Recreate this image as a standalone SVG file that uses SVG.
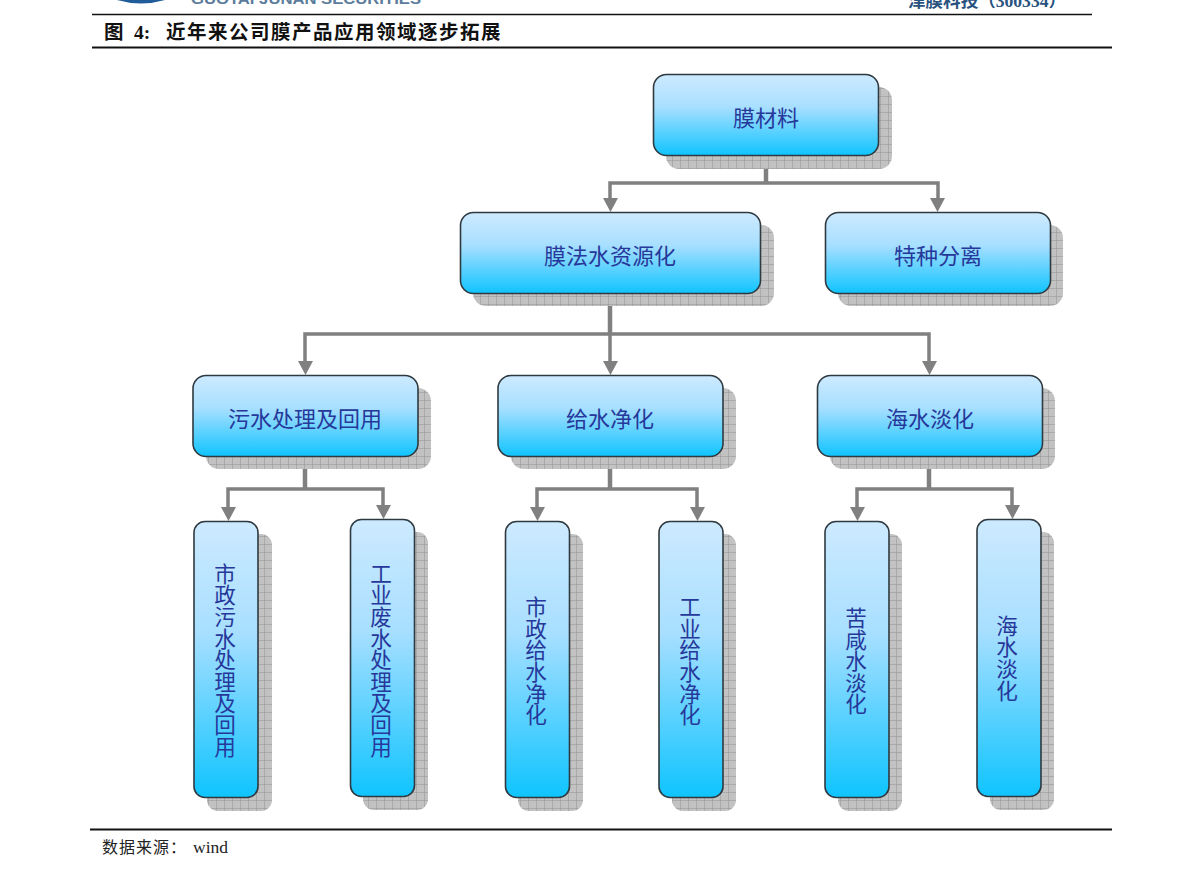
<svg xmlns="http://www.w3.org/2000/svg" width="1191" height="877" viewBox="0 0 1191 877">
<style>
.box{stroke:#2f3a40;stroke-width:1.6}
.sh{fill:url(#grid)}
.lb{font-family:"Noto Sans CJK SC","Liberation Sans",sans-serif;font-size:22px;fill:#26389a;text-anchor:middle}
.vt{font-family:"Noto Sans CJK SC","Liberation Sans",sans-serif;font-size:21.600px;fill:#26389a;writing-mode:vertical-rl;text-orientation:upright;text-anchor:middle}
.cn{fill:none;stroke:#808080;stroke-width:3.5}
.tr{fill:none;stroke:#808080;stroke-width:4.500}
.hd{font-family:"Liberation Serif","Noto Sans CJK SC",serif}
</style>
<defs>
<linearGradient id="g" x1="0" y1="0" x2="0" y2="1"><stop offset="0" stop-color="#cdeaff"/><stop offset=".4" stop-color="#a8dfff"/><stop offset="1" stop-color="#0fc4ff"/></linearGradient>
<pattern id="grid" width="8" height="8" patternUnits="userSpaceOnUse"><rect width="8" height="8" fill="#c2c2c2"/><path d="M0 0H8M0 0V8" stroke="#929292" stroke-width="1"/></pattern>
</defs>
<rect width="1191" height="877" fill="#fff"/>
<g id="header">
<path d="M117 0Q141 7 165 0Z" fill="#1f5c99"/>
<text x="191" y="4" font-family="Liberation Sans,sans-serif" font-size="14.500" font-weight="bold" fill="#5c7c9c" textLength="230" lengthAdjust="spacingAndGlyphs">GUOTAI JUNAN SECURITIES</text>
<text x="908" y="7" font-family="Liberation Serif,Noto Sans CJK SC,serif" font-size="17" font-weight="bold" fill="#29527f" textLength="158" lengthAdjust="spacingAndGlyphs">津膜科技（300334）</text>
<path d="M92 14.500H1092" stroke="#111" stroke-width="1.400"/>
<path d="M92 47.500H1112" stroke="#111" stroke-width="2"/>
<text class="hd" x="104" y="38.500" font-size="19.500" font-weight="bold" fill="#111">图<tspan x="134">4:</tspan><tspan x="166" letter-spacing="1.500">近年来公司膜产品应用领域逐步拓展</tspan></text>
<path d="M90 829.500H1112" stroke="#111" stroke-width="2"/>
<text class="hd" x="102" y="853" font-size="16" fill="#222" letter-spacing="1">数据来源：<tspan x="193" font-size="17.500" letter-spacing="0">wind</tspan></text>
</g>
<g id="connectors">
<path class="tr" d="M766 156V183"/>
<path class="cn" d="M610 198V183H938V198"/>
<path d="M603 198H618L610.500 212ZM930 198H945L937.500 212Z" fill="#808080"/>
<path class="tr" d="M610 293V334"/>
<path class="cn" d="M305 361V334H929V361M610 334V361"/>
<path d="M298 361H313L305.500 375ZM603 361H618L610.500 375ZM922 361H937L929.500 375Z" fill="#808080"/>
<path class="tr" d="M305 457V489"/>
<path class="cn" d="M228 507V489H383V505"/>
<path d="M221 507H236L228.500 521ZM376 505H391L383.500 519Z" fill="#808080"/>
<path class="tr" d="M610 457V489"/>
<path class="cn" d="M537 507V489H697V507"/>
<path d="M530 507H545L537.500 521ZM690 507H705L697.500 521Z" fill="#808080"/>
<path class="tr" d="M929 457V489"/>
<path class="cn" d="M857 507V489H1012V505"/>
<path d="M850 507H865L857.500 521ZM1005 505H1020L1012.500 519Z" fill="#808080"/>
</g>
<g id="n1"><rect class="sh" x="666" y="87" width="226" height="82" rx="13"/><rect class="box" x="653.500" y="74.500" width="225" height="81" rx="13" fill="url(#g)"/><text class="lb" x="766" y="126">膜材料</text></g>
<g id="n2"><rect class="sh" x="473" y="225" width="301" height="81" rx="13"/><rect class="box" x="460.500" y="212.500" width="300" height="81" rx="13" fill="url(#g)"/><text class="lb" x="610" y="264">膜法水资源化</text></g>
<g id="n3"><rect class="sh" x="838" y="225" width="225" height="81" rx="13"/><rect class="box" x="825.500" y="212.500" width="225" height="81" rx="13" fill="url(#g)"/><text class="lb" x="938" y="264">特种分离</text></g>
<g id="n4"><rect class="sh" x="206" y="388" width="225" height="81" rx="13"/><rect class="box" x="193" y="375.500" width="225" height="81" rx="13" fill="url(#g)"/><text class="lb" x="305" y="427">污水处理及回用</text></g>
<g id="n5"><rect class="sh" x="511" y="388" width="225" height="81" rx="13"/><rect class="box" x="498" y="375.500" width="225" height="81" rx="13" fill="url(#g)"/><text class="lb" x="610" y="427">给水净化</text></g>
<g id="n6"><rect class="sh" x="830" y="388" width="225" height="81" rx="13"/><rect class="box" x="817.500" y="375.500" width="225" height="81" rx="13" fill="url(#g)"/><text class="lb" x="930" y="427">海水淡化</text></g>
<g id="n7"><rect class="sh" x="207" y="534" width="65" height="277" rx="11"/><rect class="box" x="194" y="521.500" width="64" height="276" rx="11" fill="url(#g)"/><text class="vt" x="225" y="660">市政污水处理及回用</text></g>
<g id="n8"><rect class="sh" x="363" y="532" width="65" height="278" rx="11"/><rect class="box" x="350.500" y="519.500" width="64" height="277" rx="11" fill="url(#g)"/><text class="vt" x="381" y="660">工业废水处理及回用</text></g>
<g id="n9"><rect class="sh" x="518" y="534" width="65" height="277" rx="11"/><rect class="box" x="505.500" y="521.500" width="64" height="276" rx="11" fill="url(#g)"/><text class="vt" x="536" y="661">市政给水净化</text></g>
<g id="n10"><rect class="sh" x="672" y="534" width="64" height="277" rx="11"/><rect class="box" x="659" y="521.500" width="64" height="276" rx="11" fill="url(#g)"/><text class="vt" x="690" y="661">工业给水净化</text></g>
<g id="n11"><rect class="sh" x="838" y="534" width="64" height="277" rx="11"/><rect class="box" x="825" y="521.500" width="64" height="276" rx="11" fill="url(#g)"/><text class="vt" x="856" y="661">苦咸水淡化</text></g>
<g id="n12"><rect class="sh" x="990" y="532" width="64" height="278" rx="11"/><rect class="box" x="977" y="519.500" width="64" height="277" rx="11" fill="url(#g)"/><text class="vt" x="1007" y="658">海水淡化</text></g>
</svg>
